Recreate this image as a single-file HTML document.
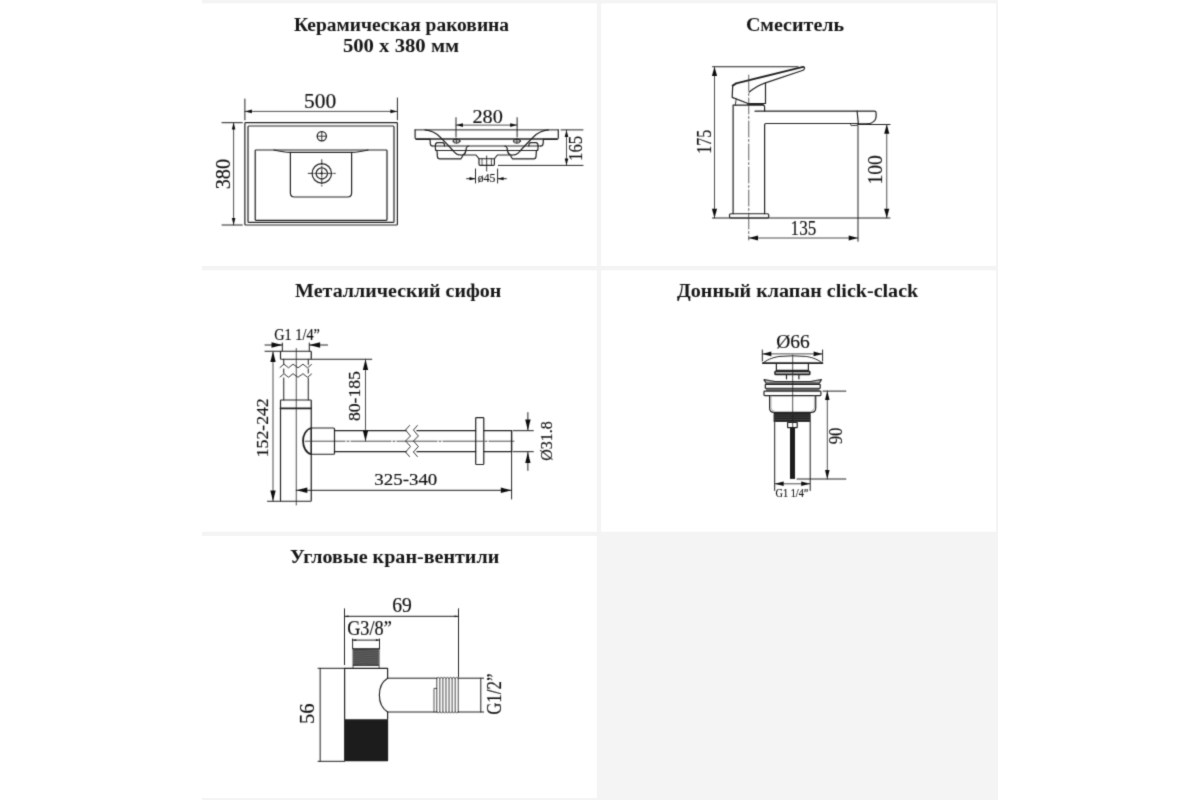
<!DOCTYPE html>
<html><head><meta charset="utf-8"><title>Схема</title>
<style>
html,body{margin:0;padding:0;background:#fff;}
body{width:1200px;height:800px;overflow:hidden;font-family:"Liberation Serif",serif;}
svg{display:block;will-change:transform;font-family:"Liberation Serif",serif;}
svg line, svg path, svg rect, svg circle, svg ellipse{stroke-linecap:round;stroke-linejoin:round;}
</style></head><body>
<svg width="1200" height="800" viewBox="0 0 1200 800">
<defs><filter id="soft" x="0" y="0" width="1200" height="800" filterUnits="userSpaceOnUse"><feConvolveMatrix order="3" kernelMatrix="0.0196 0.1008 0.0196 0.1008 0.5184 0.1008 0.0196 0.1008 0.0196" divisor="1" edgeMode="none" preserveAlpha="false"/></filter></defs>
<rect x="202" y="0" width="796" height="800" fill="#f4f4f4"/>
<rect x="202" y="3.5" width="394.9" height="262.4" fill="#fff"/>
<rect x="601.1" y="3.5" width="394.9" height="262.4" fill="#fff"/>
<rect x="202" y="270.4" width="394.9" height="261.3" fill="#fff"/>
<rect x="601.1" y="270.4" width="394.9" height="261.3" fill="#fff"/>
<rect x="202" y="535.9" width="394.9" height="262.1" fill="#fff"/>
<g filter="url(#soft)">
<text x="401.50" y="31.00" font-size="18.2" text-anchor="middle" textLength="215.2" lengthAdjust="spacingAndGlyphs" font-weight="bold" fill="#151515">Керамическая раковина</text>
<text x="401.00" y="52.40" font-size="18.2" text-anchor="middle" textLength="116.2" lengthAdjust="spacingAndGlyphs" font-weight="bold" fill="#151515">500 x 380 мм</text>
<text x="795.00" y="31.00" font-size="18.2" text-anchor="middle" textLength="98.2" lengthAdjust="spacingAndGlyphs" font-weight="bold" fill="#151515">Смеситель</text>
<text x="398.20" y="297.00" font-size="18.2" text-anchor="middle" textLength="206.2" lengthAdjust="spacingAndGlyphs" font-weight="bold" fill="#151515">Металлический сифон</text>
<text x="797.60" y="296.80" font-size="18.2" text-anchor="middle" textLength="241.2" lengthAdjust="spacingAndGlyphs" font-weight="bold" fill="#151515">Донный клапан click-clack</text>
<text x="394.70" y="563.00" font-size="18.2" text-anchor="middle" textLength="209.2" lengthAdjust="spacingAndGlyphs" font-weight="bold" fill="#151515">Угловые кран-вентили</text>
<rect x="244.90" y="122.70" width="152.50" height="102.30" rx="0.8" stroke="#222" stroke-width="1.2" fill="none"/>
<rect x="248.00" y="126.00" width="146.00" height="96.40" rx="1" stroke="#222" stroke-width="1.2" fill="none"/>
<rect x="255.20" y="150.00" width="131.80" height="70.40" rx="0.8" stroke="#222" stroke-width="1.2" fill="none"/>
<path d="M274,150 Q284,152.4 290.4,152.4 H351.6 Q358,152.4 368,150" stroke="#222" stroke-width="1.2" fill="none" />
<path d="M290.4,152.4 V193 Q290.4,197 294.4,197 H347.6 Q351.6,197 351.6,193 V152.4" stroke="#222" stroke-width="1.2" fill="none" />
<circle cx="321.80" cy="136.20" r="4.60" stroke="#222" stroke-width="1.25" fill="none"/>
<line x1="317.20" y1="136.20" x2="326.40" y2="136.20" stroke="#222" stroke-width="0.9" />
<line x1="321.80" y1="131.60" x2="321.80" y2="140.80" stroke="#222" stroke-width="0.9" />
<circle cx="321.80" cy="173.40" r="9.70" stroke="#222" stroke-width="1.2" fill="none"/>
<circle cx="321.80" cy="173.40" r="5.60" stroke="#222" stroke-width="1.3" fill="none"/>
<line x1="308.20" y1="173.40" x2="335.40" y2="173.40" stroke="#222" stroke-width="0.9" stroke-dasharray="5 1.5 1.5 1.5"/>
<line x1="321.80" y1="159.70" x2="321.80" y2="186.00" stroke="#222" stroke-width="0.9" stroke-dasharray="5 1.5 1.5 1.5"/>
<line x1="320.30" y1="173.40" x2="323.30" y2="173.40" stroke="#222" stroke-width="1" />
<line x1="321.80" y1="171.90" x2="321.80" y2="174.90" stroke="#222" stroke-width="1" />
<line x1="244.90" y1="99.00" x2="244.90" y2="119.80" stroke="#222" stroke-width="1" />
<line x1="397.40" y1="98.00" x2="397.40" y2="119.80" stroke="#222" stroke-width="1" />
<line x1="244.90" y1="111.40" x2="397.40" y2="111.40" stroke="#3c3c3c" stroke-width="0.9" />
<polygon points="244.90,111.40 251.90,109.60 251.90,113.20" fill="#111"/>
<polygon points="397.40,111.40 390.40,109.60 390.40,113.20" fill="#111"/>
<line x1="222.00" y1="122.70" x2="242.30" y2="122.70" stroke="#222" stroke-width="1" />
<line x1="222.00" y1="225.00" x2="242.30" y2="225.00" stroke="#222" stroke-width="1" />
<line x1="233.60" y1="122.60" x2="233.60" y2="225.00" stroke="#3c3c3c" stroke-width="0.9" />
<polygon points="233.60,122.60 231.80,129.60 235.40,129.60" fill="#111"/>
<polygon points="233.60,225.00 231.80,218.00 235.40,218.00" fill="#111"/>
<line x1="415.10" y1="129.90" x2="558.30" y2="129.90" stroke="#222" stroke-width="1" />
<line x1="416.50" y1="138.90" x2="556.90" y2="138.90" stroke="#222" stroke-width="1.5" />
<line x1="432.80" y1="146.00" x2="540.60" y2="146.00" stroke="#222" stroke-width="1" />
<line x1="435.60" y1="150.50" x2="537.80" y2="150.50" stroke="#222" stroke-width="1" />
<path d="M415.10 129.90 V137.80 Q415.10 139.30 416.60 139.30 H430.00" stroke="#222" stroke-width="1.2" fill="none" />
<path d="M430.00 139.30 L430.30 143.60 Q430.50 146.00 432.80 146.00" stroke="#222" stroke-width="1.2" fill="none" />
<path d="M435.30 146.00 Q435.30 142.60 437.60 142.60 H442.60 Q444.60 142.60 444.60 146.00" stroke="#222" stroke-width="1.2" fill="none" />
<path d="M435.20 146.00 L435.50 149.40 Q435.60 150.50 437.00 150.50" stroke="#222" stroke-width="1.2" fill="none" />
<path d="M437.00 150.50 L437.40 156.60 Q437.60 158.80 439.80 158.80 H461.00 L462.70 156.00" stroke="#222" stroke-width="1.2" fill="none" />
<path d="M462.50 155.00 H476.00 L479.00 158.75 V164.20 Q479.00 165.30 480.20 165.30 H487.00" stroke="#222" stroke-width="1.2" fill="none" />
<path d="M425.00 129.90 C432.00 130.50 436.00 133.00 440.00 137.00 C445.00 142.00 450.00 147.00 453.50 151.25 C456.00 154.50 459.00 155.30 462.50 155.00 C465.50 154.50 465.80 152.00 466.30 148.25 Q466.80 146.20 468.60 146.00" stroke="#222" stroke-width="1.2" fill="none" />
<path d="M454.30 152.00 Q455.80 154.80 458.50 155.10" stroke="#222" stroke-width="0.8" fill="none" />
<ellipse cx="456.50" cy="141.10" rx="3.50" ry="2.10" stroke="#222" stroke-width="1" fill="none"/>
<line x1="453.00" y1="141.10" x2="460.00" y2="141.10" stroke="#222" stroke-width="0.7" />
<line x1="456.50" y1="139.00" x2="456.50" y2="143.20" stroke="#222" stroke-width="0.7" />
<line x1="482.00" y1="158.75" x2="482.00" y2="165.30" stroke="#222" stroke-width="0.8" />
<path d="M558.30 129.90 V137.80 Q558.30 139.30 556.80 139.30 H543.40" stroke="#222" stroke-width="1.2" fill="none" />
<path d="M543.40 139.30 L543.10 143.60 Q542.90 146.00 540.60 146.00" stroke="#222" stroke-width="1.2" fill="none" />
<path d="M538.10 146.00 Q538.10 142.60 535.80 142.60 H530.80 Q528.80 142.60 528.80 146.00" stroke="#222" stroke-width="1.2" fill="none" />
<path d="M538.20 146.00 L537.90 149.40 Q537.80 150.50 536.40 150.50" stroke="#222" stroke-width="1.2" fill="none" />
<path d="M536.40 150.50 L536.00 156.60 Q535.80 158.80 533.60 158.80 H512.40 L510.70 156.00" stroke="#222" stroke-width="1.2" fill="none" />
<path d="M510.90 155.00 H497.40 L494.40 158.75 V164.20 Q494.40 165.30 493.20 165.30 H486.40" stroke="#222" stroke-width="1.2" fill="none" />
<path d="M548.40 129.90 C541.40 130.50 537.40 133.00 533.40 137.00 C528.40 142.00 523.40 147.00 519.90 151.25 C517.40 154.50 514.40 155.30 510.90 155.00 C507.90 154.50 507.60 152.00 507.10 148.25 Q506.60 146.20 504.80 146.00" stroke="#222" stroke-width="1.2" fill="none" />
<path d="M519.10 152.00 Q517.60 154.80 514.90 155.10" stroke="#222" stroke-width="0.8" fill="none" />
<ellipse cx="516.90" cy="141.10" rx="3.50" ry="2.10" stroke="#222" stroke-width="1" fill="none"/>
<line x1="513.40" y1="141.10" x2="520.40" y2="141.10" stroke="#222" stroke-width="0.7" />
<line x1="516.90" y1="139.00" x2="516.90" y2="143.20" stroke="#222" stroke-width="0.7" />
<line x1="491.40" y1="158.75" x2="491.40" y2="165.30" stroke="#222" stroke-width="0.8" />
<line x1="479.00" y1="158.75" x2="494.40" y2="158.75" stroke="#222" stroke-width="1" />
<line x1="486.70" y1="156.00" x2="486.70" y2="171.00" stroke="#222" stroke-width="0.9" />
<line x1="456.00" y1="117.70" x2="456.00" y2="137.00" stroke="#222" stroke-width="1" />
<line x1="517.10" y1="117.70" x2="517.10" y2="137.00" stroke="#222" stroke-width="1" />
<line x1="456.00" y1="125.10" x2="517.10" y2="125.10" stroke="#3c3c3c" stroke-width="0.9" />
<polygon points="456.00,125.10 463.00,123.30 463.00,126.90" fill="#111"/>
<polygon points="517.10,125.10 510.10,123.30 510.10,126.90" fill="#111"/>
<line x1="561.00" y1="129.90" x2="583.00" y2="129.90" stroke="#222" stroke-width="1" />
<line x1="498.40" y1="165.40" x2="583.00" y2="165.40" stroke="#222" stroke-width="1" />
<line x1="566.50" y1="129.90" x2="566.50" y2="165.40" stroke="#3c3c3c" stroke-width="0.9" />
<polygon points="566.50,129.90 564.70,136.90 568.30,136.90" fill="#111"/>
<polygon points="566.50,165.40 564.70,158.40 568.30,158.40" fill="#111"/>
<line x1="475.50" y1="169.00" x2="475.50" y2="183.00" stroke="#222" stroke-width="1" />
<line x1="497.60" y1="169.00" x2="497.60" y2="183.00" stroke="#222" stroke-width="1" />
<line x1="466.70" y1="178.70" x2="475.50" y2="178.70" stroke="#222" stroke-width="1" />
<polygon points="475.50,178.70 469.50,177.10 469.50,180.30" fill="#111"/>
<line x1="497.60" y1="178.70" x2="506.30" y2="178.70" stroke="#222" stroke-width="1" />
<polygon points="497.60,178.70 503.60,177.10 503.60,180.30" fill="#111"/>
<line x1="712.50" y1="66.75" x2="798.00" y2="66.75" stroke="#222" stroke-width="1" />
<line x1="712.50" y1="218.00" x2="890.00" y2="218.00" stroke="#222" stroke-width="1" />
<line x1="714.50" y1="66.75" x2="714.50" y2="218.00" stroke="#3c3c3c" stroke-width="0.9" />
<polygon points="714.50,66.75 711.90,76.05 717.10,76.05" fill="#111"/>
<polygon points="714.50,218.00 711.90,208.70 717.10,208.70" fill="#111"/>
<rect x="729.50" y="213.75" width="39.25" height="4.25" rx="1.5" stroke="#222" stroke-width="1.2" fill="none"/>
<path d="M733.1,213.75 V105.2 H762.9 Q764.6,105.2 764.6,107 V111.1" stroke="#222" stroke-width="1.2" fill="none" />
<path d="M764.6,213.75 V125 Q764.6,123.5 766.2,123.5 H858" stroke="#222" stroke-width="1.2" fill="none" />
<path d="M755,111.2 H874.5 Q876.1,111.2 876.1,113 V116.6 Q876,121.6 869.7,123.7 L866,123.9 H858" stroke="#222" stroke-width="1.2" fill="none" />
<path d="M857.1,111.2 L858.4,124" stroke="#222" stroke-width="1.2" fill="none" />
<path d="M850.4,123.9 L851.2,125.6 L857.6,125.3" stroke="#222" stroke-width="0.9" fill="none" />
<path d="M732.7,85.6 L736.2,83.4 L803.1,66.9" stroke="#222" stroke-width="1.9" fill="none" />
<path d="M732.7,85.6 L732.2,97.4 L748,103.5 H765.5 V82.9" stroke="#222" stroke-width="1.2" fill="none" />
<path d="M803.1,66.8 Q805,67 804.5,68.4 Q804,69.9 803.1,70.2 L765.5,82.9 Q757,85.5 749.3,92" stroke="#222" stroke-width="1.2" fill="none" />
<path d="M736.2,99.1 L735.3,105.2" stroke="#222" stroke-width="0.9" fill="none" />
<line x1="748.00" y1="104.30" x2="763.00" y2="104.30" stroke="#222" stroke-width="1.6" />
<line x1="748.75" y1="75.00" x2="748.75" y2="240.00" stroke="#3a3a3a" stroke-width="0.8" stroke-dasharray="16 2.5 2 2.5"/>
<line x1="858.00" y1="125.75" x2="858.00" y2="241.25" stroke="#222" stroke-width="1" />
<line x1="748.75" y1="238.00" x2="858.00" y2="238.00" stroke="#3c3c3c" stroke-width="0.9" />
<polygon points="748.75,238.00 758.05,235.40 758.05,240.60" fill="#111"/>
<polygon points="858.00,238.00 848.70,235.40 848.70,240.60" fill="#111"/>
<line x1="858.00" y1="124.50" x2="890.00" y2="124.50" stroke="#222" stroke-width="1" />
<line x1="886.75" y1="124.50" x2="886.75" y2="218.00" stroke="#3c3c3c" stroke-width="0.9" />
<polygon points="886.75,124.50 884.15,133.80 889.35,133.80" fill="#111"/>
<polygon points="886.75,218.00 884.15,208.70 889.35,208.70" fill="#111"/>
<rect x="280.50" y="351.25" width="30.75" height="8.00" rx="0.8" stroke="#222" stroke-width="1.2" fill="none"/>
<line x1="283.75" y1="359.25" x2="283.75" y2="364.50" stroke="#222" stroke-width="1" />
<line x1="283.75" y1="369.00" x2="283.75" y2="373.00" stroke="#222" stroke-width="1" />
<line x1="283.75" y1="378.00" x2="283.75" y2="400.00" stroke="#222" stroke-width="1" />
<line x1="308.25" y1="359.25" x2="308.25" y2="364.50" stroke="#222" stroke-width="1" />
<line x1="308.25" y1="369.00" x2="308.25" y2="373.00" stroke="#222" stroke-width="1" />
<line x1="308.25" y1="378.00" x2="308.25" y2="400.00" stroke="#222" stroke-width="1" />
<path d="M280,367.5 L284,364.2 L288.5,367.8 L293,364.2 L298,367.8 L303,364.2 L307.5,367.8 L311.5,364.5" stroke="#222" stroke-width="0.9" fill="none" />
<path d="M280,377.0 L284,373.7 L288.5,377.3 L293,373.7 L298,377.3 L303,373.7 L307.5,377.3 L311.5,374.0" stroke="#222" stroke-width="0.9" fill="none" />
<rect x="280.50" y="400.00" width="30.75" height="101.25" rx="0.8" stroke="#222" stroke-width="1.2" fill="none"/>
<line x1="280.50" y1="408.30" x2="311.25" y2="408.30" stroke="#222" stroke-width="1.7" />
<line x1="296.25" y1="348.50" x2="296.25" y2="505.00" stroke="#222" stroke-width="0.8" />
<rect x="311.25" y="428.00" width="23.25" height="26.25" rx="1" stroke="#222" stroke-width="1.2" fill="none"/>
<path d="M311.25,428 C300.3,431 300.3,451 311.25,454.25" stroke="#222" stroke-width="1.8" fill="none" />
<line x1="334.50" y1="430.70" x2="406.00" y2="430.70" stroke="#222" stroke-width="1.3" />
<line x1="334.50" y1="451.70" x2="406.00" y2="451.70" stroke="#222" stroke-width="1.3" />
<line x1="417.00" y1="430.70" x2="475.70" y2="430.70" stroke="#222" stroke-width="1.3" />
<line x1="417.00" y1="451.70" x2="475.70" y2="451.70" stroke="#222" stroke-width="1.3" />
<line x1="483.80" y1="430.70" x2="511.60" y2="430.70" stroke="#222" stroke-width="1.3" />
<line x1="483.80" y1="451.70" x2="511.60" y2="451.70" stroke="#222" stroke-width="1.3" />
<line x1="511.60" y1="430.70" x2="511.60" y2="451.70" stroke="#222" stroke-width="1.4" />
<line x1="305.00" y1="441.20" x2="514.00" y2="441.20" stroke="#222" stroke-width="0.8" stroke-dasharray="40 2 2 2"/>
<path d="M409.5,425.5 L405.5,430 L410.5,436 L405.5,441 L410.5,446.5 L405.5,452 L409.5,456.6" stroke="#222" stroke-width="0.9" fill="none" />
<path d="M417.4,425.5 L413.4,430 L418.4,436 L413.4,441 L418.4,446.5 L413.4,452 L417.4,456.6" stroke="#222" stroke-width="0.9" fill="none" />
<rect x="475.70" y="417.60" width="8.10" height="46.90" rx="0.8" stroke="#222" stroke-width="1.2" fill="none"/>
<line x1="265.00" y1="351.25" x2="280.50" y2="351.25" stroke="#222" stroke-width="1" />
<line x1="267.50" y1="501.25" x2="280.50" y2="501.25" stroke="#222" stroke-width="1" />
<line x1="273.00" y1="351.25" x2="273.00" y2="501.25" stroke="#3c3c3c" stroke-width="0.9" />
<polygon points="273.00,351.25 270.30,362.05 275.70,362.05" fill="#111"/>
<polygon points="273.00,501.25 270.30,490.45 275.70,490.45" fill="#111"/>
<line x1="282.30" y1="343.00" x2="282.30" y2="351.00" stroke="#222" stroke-width="1" />
<line x1="309.30" y1="343.00" x2="309.30" y2="351.00" stroke="#222" stroke-width="1" />
<line x1="265.00" y1="345.00" x2="282.30" y2="345.00" stroke="#222" stroke-width="1" />
<polygon points="282.30,345.00 271.50,342.30 271.50,347.70" fill="#111"/>
<line x1="309.30" y1="345.00" x2="327.50" y2="345.00" stroke="#222" stroke-width="1" />
<polygon points="309.30,345.00 320.10,342.30 320.10,347.70" fill="#111"/>
<line x1="311.25" y1="359.25" x2="371.75" y2="359.25" stroke="#222" stroke-width="1" />
<line x1="365.50" y1="359.25" x2="365.50" y2="441.20" stroke="#3c3c3c" stroke-width="0.9" />
<polygon points="365.50,359.25 362.80,370.05 368.20,370.05" fill="#111"/>
<polygon points="365.50,441.20 362.80,430.40 368.20,430.40" fill="#111"/>
<line x1="296.25" y1="490.30" x2="511.60" y2="490.30" stroke="#222" stroke-width="1" />
<polygon points="296.50,490.30 307.30,487.60 307.30,493.00" fill="#111"/>
<polygon points="511.60,490.30 500.80,487.60 500.80,493.00" fill="#111"/>
<line x1="511.60" y1="451.70" x2="511.60" y2="499.00" stroke="#222" stroke-width="1" />
<line x1="513.30" y1="430.70" x2="533.30" y2="430.70" stroke="#222" stroke-width="1" />
<line x1="513.30" y1="451.70" x2="533.30" y2="451.70" stroke="#222" stroke-width="1" />
<line x1="527.90" y1="412.60" x2="527.90" y2="430.20" stroke="#222" stroke-width="1" />
<polygon points="527.90,430.20 525.20,419.40 530.60,419.40" fill="#111"/>
<line x1="527.90" y1="470.40" x2="527.90" y2="452.20" stroke="#222" stroke-width="1" />
<polygon points="527.90,452.20 525.20,463.00 530.60,463.00" fill="#111"/>
<line x1="762.30" y1="350.00" x2="762.30" y2="361.00" stroke="#222" stroke-width="1" />
<line x1="822.60" y1="350.00" x2="822.60" y2="361.00" stroke="#222" stroke-width="1" />
<line x1="762.30" y1="353.90" x2="822.60" y2="353.90" stroke="#3c3c3c" stroke-width="0.9" />
<polygon points="762.30,353.90 771.30,351.60 771.30,356.20" fill="#111"/>
<polygon points="822.60,353.90 813.60,351.60 813.60,356.20" fill="#111"/>
<path d="M762.9,363 C769,358.5 775,357 780,356.4 Q792.7,355.3 805.4,356.4 C810.4,357 816.4,358.5 822.5,363" stroke="#222" stroke-width="1" fill="none" />
<line x1="762.90" y1="363.10" x2="822.50" y2="363.10" stroke="#222" stroke-width="1.7" />
<path d="M776.4,363.5 V370.3 H808.4 V363.5" stroke="#222" stroke-width="1.2" fill="none" />
<rect x="775.00" y="371.30" width="34.80" height="3.30" rx="0.8" stroke="#222" stroke-width="1.5" fill="none"/>
<line x1="775.50" y1="373.00" x2="809.30" y2="373.00" stroke="#222" stroke-width="0.8" />
<path d="M786.5,374.8 V378.8 M798.9,374.8 V378.8" stroke="#222" stroke-width="1.2" fill="none" />
<path d="M764,379.7 L775.2,381.5 H810.2 L821.4,379.7 L819.3,383.1 H766.1 Z" stroke="#222" stroke-width="1.2" fill="#bdbdbd" />
<rect x="765.30" y="384.40" width="54.90" height="3.90" rx="0.6" stroke="#222" stroke-width="1.2" fill="none"/>
<rect x="766" y="388.5" width="53.5" height="2.4" fill="#666"/>
<rect x="764.00" y="391.10" width="56.90" height="4.50" rx="0.8" stroke="#222" stroke-width="1.2" fill="none"/>
<path d="M769.6,395.6 V408 Q769.6,412.4 774,412.4 H811.4 Q815.7,412.4 815.7,408 V395.6" stroke="#222" stroke-width="1.2" fill="none" />
<path d="M771,395.6 V407.5 Q771,410.6 774,411.2" stroke="#777" stroke-width="0.6" fill="none" />
<path d="M814.4,395.6 V407.5 Q814.4,410.6 811.4,411.2" stroke="#777" stroke-width="0.6" fill="none" />
<rect x="773.6" y="412.5" width="37.1" height="9.4" fill="#232323"/>
<line x1="774.00" y1="414.90" x2="810.30" y2="414.90" stroke="#5a5a5a" stroke-width="0.5" />
<line x1="774.00" y1="417.20" x2="810.30" y2="417.20" stroke="#5a5a5a" stroke-width="0.5" />
<line x1="774.00" y1="419.50" x2="810.30" y2="419.50" stroke="#5a5a5a" stroke-width="0.5" />
<rect x="787.60" y="422.40" width="9.60" height="5.30" rx="0.5" stroke="#222" stroke-width="1.2" fill="none"/>
<rect x="790" y="427.7" width="5" height="51.2" fill="#1d1d1d"/>
<line x1="792.70" y1="355.00" x2="792.70" y2="427.70" stroke="#222" stroke-width="0.8" />
<line x1="774.70" y1="422.00" x2="774.70" y2="490.50" stroke="#222" stroke-width="1" />
<line x1="810.20" y1="422.00" x2="810.20" y2="490.50" stroke="#222" stroke-width="1" />
<line x1="774.70" y1="483.80" x2="810.20" y2="483.80" stroke="#3c3c3c" stroke-width="0.9" />
<polygon points="774.70,483.80 783.70,481.50 783.70,486.10" fill="#111"/>
<polygon points="810.20,483.80 801.20,481.50 801.20,486.10" fill="#111"/>
<line x1="823.00" y1="391.10" x2="845.80" y2="391.10" stroke="#222" stroke-width="1" />
<line x1="797.00" y1="479.00" x2="845.80" y2="479.00" stroke="#222" stroke-width="1" />
<line x1="827.30" y1="391.10" x2="827.30" y2="479.00" stroke="#3c3c3c" stroke-width="0.9" />
<polygon points="827.30,391.10 825.00,400.10 829.60,400.10" fill="#111"/>
<polygon points="827.30,479.00 825.00,470.00 829.60,470.00" fill="#111"/>
<line x1="344.50" y1="608.80" x2="344.50" y2="664.60" stroke="#222" stroke-width="1" />
<line x1="458.50" y1="608.80" x2="458.50" y2="677.00" stroke="#222" stroke-width="1" />
<line x1="344.50" y1="616.30" x2="458.50" y2="616.30" stroke="#222" stroke-width="1" />
<polygon points="344.50,616.30 348.50,615.40 348.50,617.20" fill="#111"/>
<polygon points="458.50,616.30 454.50,615.40 454.50,617.20" fill="#111"/>
<line x1="352.60" y1="639.00" x2="352.60" y2="648.80" stroke="#222" stroke-width="1" />
<line x1="379.50" y1="639.00" x2="379.50" y2="648.80" stroke="#222" stroke-width="1" />
<line x1="352.60" y1="640.10" x2="379.50" y2="640.10" stroke="#222" stroke-width="1" />
<polygon points="352.60,640.10 356.20,639.20 356.20,641.00" fill="#111"/>
<polygon points="379.50,640.10 375.90,639.20 375.90,641.00" fill="#111"/>
<line x1="353.00" y1="648.50" x2="353.00" y2="668.30" stroke="#222" stroke-width="0.8" />
<line x1="379.10" y1="648.50" x2="379.10" y2="668.30" stroke="#222" stroke-width="0.8" />
<rect x="353.1" y="648.4" width="25.7" height="17.2" fill="#4c4c4c"/>
<line x1="353.50" y1="652.00" x2="378.40" y2="650.40" stroke="#6e6e6e" stroke-width="0.6" />
<line x1="353.50" y1="654.20" x2="378.40" y2="652.60" stroke="#6e6e6e" stroke-width="0.6" />
<line x1="353.50" y1="656.40" x2="378.40" y2="654.80" stroke="#6e6e6e" stroke-width="0.6" />
<line x1="353.50" y1="658.60" x2="378.40" y2="657.00" stroke="#6e6e6e" stroke-width="0.6" />
<line x1="353.50" y1="660.80" x2="378.40" y2="659.20" stroke="#6e6e6e" stroke-width="0.6" />
<line x1="353.50" y1="663.00" x2="378.40" y2="661.40" stroke="#6e6e6e" stroke-width="0.6" />
<line x1="353.50" y1="665.20" x2="378.40" y2="663.60" stroke="#6e6e6e" stroke-width="0.6" />
<line x1="353.30" y1="648.80" x2="378.60" y2="648.80" stroke="#2a2a2a" stroke-width="1" />
<line x1="353.30" y1="665.30" x2="378.60" y2="665.30" stroke="#2a2a2a" stroke-width="1" />
<path d="M387.6,678.2 V668.3 H344.6 V719.3" stroke="#222" stroke-width="1.2" fill="none" />
<path d="M387.6,712 V719.3" stroke="#222" stroke-width="1.2" fill="none" />
<rect x="344.1" y="719.3" width="44" height="42" rx="0.8" fill="#1a1a1a"/>
<line x1="387.60" y1="678.20" x2="436.80" y2="678.20" stroke="#222" stroke-width="1" />
<line x1="387.60" y1="712.00" x2="436.80" y2="712.00" stroke="#222" stroke-width="1" />
<path d="M387.6,678.2 C376.6,685 376.6,705 387.6,712" stroke="#222" stroke-width="1.2" fill="none" />
<path d="M434,712 V688.4 H436.8" stroke="#222" stroke-width="0.8" fill="none" />
<line x1="436.80" y1="678.20" x2="436.80" y2="712.00" stroke="#333" stroke-width="0.9" />
<line x1="439.86" y1="678.20" x2="439.86" y2="712.00" stroke="#333" stroke-width="0.9" />
<line x1="442.92" y1="678.20" x2="442.92" y2="712.00" stroke="#333" stroke-width="0.9" />
<line x1="445.98" y1="678.20" x2="445.98" y2="712.00" stroke="#333" stroke-width="0.9" />
<line x1="449.04" y1="678.20" x2="449.04" y2="712.00" stroke="#333" stroke-width="0.9" />
<line x1="452.10" y1="678.20" x2="452.10" y2="712.00" stroke="#333" stroke-width="0.9" />
<line x1="455.16" y1="678.20" x2="455.16" y2="712.00" stroke="#333" stroke-width="0.9" />
<line x1="458.22" y1="678.20" x2="458.22" y2="712.00" stroke="#333" stroke-width="0.9" />
<path d="M436.8,678.4 L438.30,677.4 L439.86,678.4 L441.36,677.4 L442.92,678.4 L444.42,677.4 L445.98,678.4 L447.48,677.4 L449.04,678.4 L450.54,677.4 L452.10,678.4 L453.60,677.4 L455.16,678.4 L456.66,677.4 L458.22,678.4" stroke="#222" stroke-width="0.8" fill="none" />
<path d="M436.8,711.8 L438.30,712.8 L439.86,711.8 L441.36,712.8 L442.92,711.8 L444.42,712.8 L445.98,711.8 L447.48,712.8 L449.04,711.8 L450.54,712.8 L452.10,711.8 L453.60,712.8 L455.16,711.8 L456.66,712.8 L458.22,711.8" stroke="#222" stroke-width="0.8" fill="none" />
<line x1="458.30" y1="678.20" x2="483.60" y2="678.20" stroke="#222" stroke-width="1" />
<line x1="458.30" y1="712.00" x2="483.60" y2="712.00" stroke="#222" stroke-width="1" />
<line x1="480.80" y1="678.20" x2="480.80" y2="712.00" stroke="#222" stroke-width="1" />
<line x1="318.04" y1="668.30" x2="344.60" y2="668.30" stroke="#222" stroke-width="1" />
<line x1="318.04" y1="761.30" x2="344.60" y2="761.30" stroke="#222" stroke-width="1" />
<line x1="320.17" y1="668.30" x2="320.17" y2="761.30" stroke="#222" stroke-width="1" />
<text id="lab0" x="320.10" y="107.70" font-size="20" text-anchor="middle" textLength="32.2" lengthAdjust="spacingAndGlyphs" fill="#111" stroke="#111" stroke-width="0.16">500</text>
<text id="lab1" x="229.90" y="174.10" font-size="20" text-anchor="middle" transform="rotate(-90 229.90 174.10)" textLength="30.2" lengthAdjust="spacingAndGlyphs" fill="#111" stroke="#111" stroke-width="0.16">380</text>
<text id="lab2" x="487.60" y="122.50" font-size="19.5" text-anchor="middle" textLength="30.4" lengthAdjust="spacingAndGlyphs" fill="#111" stroke="#111" stroke-width="0.16">280</text>
<text id="lab3" x="582.50" y="148.40" font-size="19" text-anchor="middle" transform="rotate(-90 582.50 148.40)" textLength="25.1" lengthAdjust="spacingAndGlyphs" fill="#111" stroke="#111" stroke-width="0.16">165</text>
<text id="lab4" x="486.60" y="181.50" font-size="12" text-anchor="middle" textLength="17.6" lengthAdjust="spacingAndGlyphs" fill="#111" stroke="#111" stroke-width="0.16">ø45</text>
<text id="lab5" x="711.10" y="141.80" font-size="20" text-anchor="middle" transform="rotate(-90 711.10 141.80)" textLength="24.0" lengthAdjust="spacingAndGlyphs" fill="#111" stroke="#111" stroke-width="0.16">175</text>
<text id="lab6" x="803.40" y="234.70" font-size="20" text-anchor="middle" textLength="25.6" lengthAdjust="spacingAndGlyphs" fill="#111" stroke="#111" stroke-width="0.16">135</text>
<text id="lab7" x="882.10" y="169.90" font-size="20" text-anchor="middle" transform="rotate(-90 882.10 169.90)" textLength="29.4" lengthAdjust="spacingAndGlyphs" fill="#111" stroke="#111" stroke-width="0.16">100</text>
<text id="lab8" x="268.50" y="427.80" font-size="17.5" text-anchor="middle" transform="rotate(-90 268.50 427.80)" textLength="59.0" lengthAdjust="spacingAndGlyphs" fill="#111" stroke="#111" stroke-width="0.16">152-242</text>
<text id="lab9" x="297.10" y="339.50" font-size="17.5" text-anchor="middle" textLength="45.6" lengthAdjust="spacingAndGlyphs" fill="#111" stroke="#111" stroke-width="0.16">G1 1/4”</text>
<text id="lab10" x="359.90" y="396.10" font-size="17.5" text-anchor="middle" transform="rotate(-90 359.90 396.10)" textLength="50.0" lengthAdjust="spacingAndGlyphs" fill="#111" stroke="#111" stroke-width="0.16">80-185</text>
<text id="lab11" x="405.80" y="485.30" font-size="17.5" text-anchor="middle" textLength="63.0" lengthAdjust="spacingAndGlyphs" fill="#111" stroke="#111" stroke-width="0.16">325-340</text>
<text id="lab12" x="552.10" y="441.00" font-size="17.5" text-anchor="middle" transform="rotate(-90 552.10 441.00)" textLength="39.4" lengthAdjust="spacingAndGlyphs" fill="#111" stroke="#111" stroke-width="0.16">Ø31.8</text>
<text id="lab13" x="793.00" y="347.50" font-size="19" text-anchor="middle" textLength="33.5" lengthAdjust="spacingAndGlyphs" fill="#111" stroke="#111" stroke-width="0.16">Ø66</text>
<text id="lab14" x="842.50" y="435.90" font-size="18" text-anchor="middle" transform="rotate(-90 842.50 435.90)" textLength="16.8" lengthAdjust="spacingAndGlyphs" fill="#111" stroke="#111" stroke-width="0.16">90</text>
<text id="lab15" x="792.00" y="496.50" font-size="12" text-anchor="middle" textLength="32.8" lengthAdjust="spacingAndGlyphs" fill="#111" stroke="#111" stroke-width="0.16">G1 1/4”</text>
<text id="lab16" x="402.00" y="611.70" font-size="20" text-anchor="middle" textLength="19.6" lengthAdjust="spacingAndGlyphs" fill="#111" stroke="#111" stroke-width="0.16">69</text>
<text id="lab17" x="369.50" y="634.50" font-size="20" text-anchor="middle" textLength="44.6" lengthAdjust="spacingAndGlyphs" fill="#111" stroke="#111" stroke-width="0.16">G3/8”</text>
<text id="lab18" x="501.10" y="694.20" font-size="20" text-anchor="middle" transform="rotate(-90 501.10 694.20)" textLength="41.2" lengthAdjust="spacingAndGlyphs" fill="#111" stroke="#111" stroke-width="0.16">G1/2”</text>
<text id="lab19" x="314.50" y="713.70" font-size="20" text-anchor="middle" transform="rotate(-90 314.50 713.70)" textLength="20.6" lengthAdjust="spacingAndGlyphs" fill="#111" stroke="#111" stroke-width="0.16">56</text>
</g>
</svg>
</body></html>
